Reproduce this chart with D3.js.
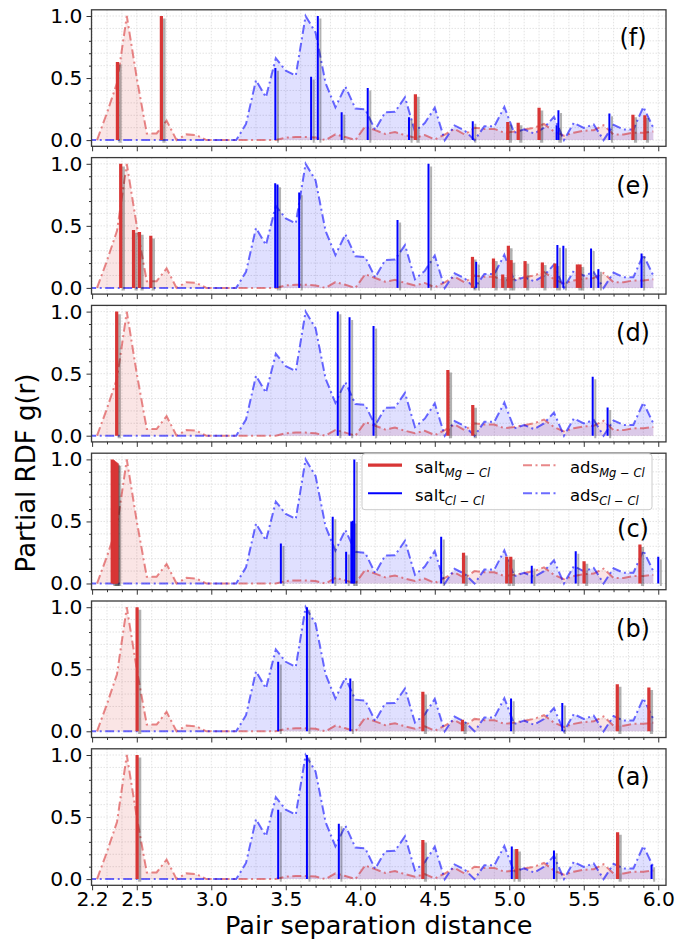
<!DOCTYPE html>
<html><head><meta charset="utf-8">
<script src="https://cdn.jsdelivr.net/npm/d3@7"></script>
<style>body{margin:0;background:#fff} svg{display:block}</style>
</head><body>
<svg id="chart" width="691" height="940"></svg>
<script>
// ---------- data ----------
const rGrid = [2.233,2.3,2.367,2.433,2.5,2.567,2.633,2.7,2.767,2.833,2.9,2.967,3.033,3.1,3.167,3.233,3.3,3.367,3.433,3.5,3.567,3.633,3.7,3.767,3.833,3.9,3.967,4.033,4.1,4.167,4.233,4.3,4.367,4.433,4.5,4.567,4.633,4.7,4.767,4.833,4.9,4.967,5.033,5.1,5.167,5.233,5.3,5.367,5.433,5.5,5.567,5.633,5.7,5.767,5.833,5.9,5.967];
const adsMgCl = [0,0.22,0.46,1.0,0.5,0.054,0.054,0.157,0,0.046,0.04,0,0,0,0,0,0,0,0,0.02,0.025,0.025,0.02,0,0.046,0.025,0,0.11,0.08,0.05,0.065,0.04,0.02,0.04,0.005,0.045,0.09,0.045,0.1,0.09,0.09,0.06,0.07,0.085,0.1,0.13,0.07,0.035,0.06,0.075,0.08,0.12,0.045,0.045,0.06,0.06,0.07];
const rGridCl = [2.167].concat(rGrid);
const adsClCl = [0,0,0,0,0,0,0,0,0,0,0,0,0,0,0,0,0.13,0.483,0.346,0.66,0.56,0.52,1.0,0.867,0.46,0.265,0.432,0.255,0.248,0.083,0.225,0.228,0.345,0.07,0.137,0.261,0,0.118,0.078,0,0.112,0.112,0.267,0.059,0.086,0.053,0.099,0.187,0,0.139,0.099,0.126,0,0.123,0.086,0.086,0.267,0.099];

const panelLabels = ["(f)","(e)","(d)","(c)","(b)","(a)"];
const saltMg_f = [[2.37,0.63],[2.665,1.0],[4.37,0.37],[4.99,0.145],[5.06,0.14],[5.2,0.26],[5.83,0.205],[5.91,0.2]];
const saltCl_f = [[3.43,0.58],[3.67,0.51],[3.715,1.0],[3.875,0.225],[4.05,0.42],[4.327,0.185],[4.755,0.152],[5.318,0.12],[5.33,0.24],[5.672,0.214]];
const saltMg_e = [[2.392,1.0],[2.478,0.466],[2.518,0.45],[2.594,0.42],[4.753,0.25],[4.894,0.237],[4.956,0.108],[4.994,0.34],[5.012,0.224],[5.106,0.216],[5.222,0.205],[5.307,0.197],[5.457,0.189],[5.475,0.189]];
const saltCl_e = [[3.429,0.844],[3.444,0.833],[3.59,0.768],[4.25,0.547],[4.458,1.0],[4.778,0.21],[5.323,0.345],[5.363,0.34],[5.549,0.318],[5.598,0.151],[5.888,0.278]];
const saltMg_d = [[2.365,1.0],[4.588,0.53],[4.755,0.247]];
const saltCl_d = [[3.849,1.0],[3.928,0.954],[4.089,0.884],[5.56,0.476],[5.66,0.228]];
const saltMg_c = [[2.335,1.0],[2.343,0.993],[2.351,0.985],[2.359,0.978],[2.367,0.97],[4.693,0.247],[4.983,0.215],[5.01,0.215],[5.502,0.18],[5.877,0.315]];
const saltCl_c = [[3.467,0.323],[3.815,0.538],[3.905,0.255],[3.94,0.5],[3.95,0.505],[3.96,1.0],[4.543,0.376],[5.151,0.142],[5.446,0.26],[6.0,0.215]];
const saltMg_b = [[2.502,1.0],[4.42,0.318],[4.686,0.094],[5.725,0.38],[5.937,0.353]];
const saltCl_b = [[3.449,0.56],[3.642,1.0],[3.933,0.426],[5.012,0.264],[5.356,0.229]];
const saltMg_a = [[2.502,1.0],[4.42,0.316],[5.05,0.243],[5.727,0.378]];
const saltCl_a = [[3.449,0.559],[3.642,1.0],[3.856,0.446],[5.017,0.262],[5.30,0.23],[5.955,0.116]];
const saltMgPanels = [saltMg_f,saltMg_e,saltMg_d,saltMg_c,saltMg_b,saltMg_a];
const saltClPanels = [saltCl_f,saltCl_e,saltCl_d,saltCl_c,saltCl_b,saltCl_a];

const xTickValues = [2.2,2.5,3.0,3.5,4.0,4.5,5.0,5.5,6.0];
const xTickLabels = ["2.2","2.5","3.0","3.5","4.0","4.5","5.0","5.5","6.0"];
const yTickValues = [0.0,0.5,1.0];
const yTickLabels = ["0.0","0.5","1.0"];

// ---------- styles ----------
const FONT = "DejaVu Sans";
const cMgBar = "#d83535", cClBar = "#0000ff";
const cMgLine = "rgba(214,39,40,0.55)", cClLine = "rgba(0,0,255,0.58)";
const cMgFill = "rgba(214,39,40,0.12)", cClFill = "rgba(0,0,255,0.12)";
const DASH = "9,3.5,2,3.5";

const svg = d3.select("#chart");
const L = 91.5, R = 666, H = 136.5, TOP0 = 9.8, STEP = 147.8;
const x = d3.scaleLinear().domain([2.196, 6.052]).range([L, R]);

const xMinor = d3.range(2.2, 6.05, 0.1).map(v => +v.toFixed(2)).filter(v => !xTickValues.some(t => Math.abs(t - v) < 1e-6));
const yMinor = d3.range(0, 1.01, 0.1).map(v => +v.toFixed(2)).filter(v => !yTickValues.some(t => Math.abs(t - v) < 1e-6));
const xGrid = d3.range(2.2, 6.05, 0.1).map(v => +v.toFixed(2));
const yGrid = d3.range(0, 1.01, 0.1).map(v => +v.toFixed(2));

panelLabels.forEach((lab, i) => {
  const top = TOP0 + i * STEP;
  const y = d3.scaleLinear().domain([-0.05, 1.05]).range([top + H, top]);
  const g = svg.append("g");
  const clipId = "clip" + i;
  svg.append("clipPath").attr("id", clipId).append("rect").attr("x", L).attr("y", top).attr("width", R - L).attr("height", H);

  g.append("rect").attr("x", L).attr("y", top).attr("width", R - L).attr("height", H).attr("fill", "#fff");

  // grid
  const grid = g.append("g").attr("clip-path", `url(#${clipId})`);
  grid.selectAll(".gx").data(xGrid).join("line")
    .attr("x1", d => x(d)).attr("x2", d => x(d)).attr("y1", top).attr("y2", top + H)
    .attr("stroke", "#dcdcdc").attr("stroke-width", 0.8).attr("stroke-dasharray", "1.5,1.5");
  grid.selectAll(".gy").data(yGrid).join("line")
    .attr("y1", d => y(d)).attr("y2", d => y(d)).attr("x1", L).attr("x2", R)
    .attr("stroke", "#dcdcdc").attr("stroke-width", 0.8).attr("stroke-dasharray", "1.5,1.5");

  const plot = g.append("g").attr("clip-path", `url(#${clipId})`);
  const mgPts = rGrid.map((r, k) => [r, adsMgCl[k]]);
  const clPts = rGridCl.map((r, k) => [r, adsClCl[k]]);
  const area = d3.area().x(d => x(d[0])).y0(y(0)).y1(d => y(d[1]));
  const line = d3.line().x(d => x(d[0])).y(d => y(d[1]));
  plot.append("path").attr("d", area(mgPts)).attr("fill", cMgFill);
  plot.append("path").attr("d", area(clPts)).attr("fill", cClFill);
  plot.append("path").attr("d", line(mgPts)).attr("fill", "none").attr("stroke", cMgLine).attr("stroke-width", 2).attr("stroke-dasharray", DASH);
  plot.append("path").attr("d", line(clPts)).attr("fill", "none").attr("stroke", cClLine).attr("stroke-width", 2).attr("stroke-dasharray", DASH);

  // salt bars with shadows
  const bars = [[saltMgPanels[i], cMgBar, 3.2], [saltClPanels[i], cClBar, 2.0]];
  bars.forEach(([data, col, w]) => {
    plot.selectAll(null).data(data).join("line")
      .attr("x1", d => x(d[0]) + 2.6).attr("x2", d => x(d[0]) + 2.6)
      .attr("y1", y(0) + 2.6).attr("y2", d => y(d[1]) + 2.6)
      .attr("stroke", "rgba(0,0,0,0.3)").attr("stroke-width", w);
  });
  bars.forEach(([data, col, w]) => {
    plot.selectAll(null).data(data).join("line")
      .attr("x1", d => x(d[0])).attr("x2", d => x(d[0]))
      .attr("y1", y(0)).attr("y2", d => y(d[1]))
      .attr("stroke", col).attr("stroke-width", w);
  });

  // spines
  g.append("rect").attr("x", L).attr("y", top).attr("width", R - L).attr("height", H)
    .attr("fill", "none").attr("stroke", "#3a3a3a").attr("stroke-width", 1.3);

  // axes
  const isBottom = i === panelLabels.length - 1;
  const xAx = g.append("g").attr("transform", `translate(0,${top + H})`)
    .call(d3.axisBottom(x).tickValues(xTickValues).tickSize(5).tickPadding(1)
      .tickFormat((d, k) => isBottom ? xTickLabels[k] : ""));
  const xAxMin = g.append("g").attr("transform", `translate(0,${top + H})`)
    .call(d3.axisBottom(x).tickValues(xMinor).tickSize(2.5).tickFormat(""));
  const yAx = g.append("g").attr("transform", `translate(${L},0)`)
    .call(d3.axisLeft(y).tickValues(yTickValues).tickSize(5).tickPadding(4).tickFormat((d, k) => yTickLabels[k]));
  const yAxMin = g.append("g").attr("transform", `translate(${L},0)`)
    .call(d3.axisLeft(y).tickValues(yMinor).tickSize(2.5).tickFormat(""));
  [xAx, xAxMin, yAx, yAxMin].forEach(a => {
    a.select(".domain").remove();
    a.selectAll("line").attr("stroke", "#333").attr("stroke-width", 1);
    a.selectAll("text").attr("font-family", FONT).attr("font-size", 20.3).attr("fill", "#000");
  });

  const labY = lab === "(c)" ? top + 84 : top + 36;
  g.append("text").attr("x", 633).attr("y", labY).attr("text-anchor", "middle")
    .attr("font-family", FONT).attr("font-size", 24).text(lab);

  // legend in panel (c)
  if (lab === "(c)") {
    const lg = g.append("g");
    lg.append("rect").attr("x", 362).attr("y", top + 0.5).attr("width", 290).attr("height", 56).attr("rx", 3)
      .attr("fill", "rgba(255,255,255,0.85)").attr("stroke", "#cccccc").attr("stroke-width", 1);
    const items = [
      {name: "salt", sub: "Mg", sub2: "Cl", col: cMgBar, w: 3.2, dash: null, hx: 368, ty: 12},
      {name: "salt", sub: "Cl", sub2: "Cl", col: cClBar, w: 2, dash: null, hx: 368, ty: 40},
      {name: "ads", sub: "Mg", sub2: "Cl", col: cMgLine, w: 2, dash: DASH, hx: 523, ty: 12},
      {name: "ads", sub: "Cl", sub2: "Cl", col: cClLine, w: 2, dash: DASH, hx: 523, ty: 40}
    ];
    items.forEach(it => {
      const yy = top + it.ty;
      lg.append("line").attr("x1", it.hx).attr("x2", it.hx + 34).attr("y1", yy).attr("y2", yy)
        .attr("stroke", it.col).attr("stroke-width", it.w).attr("stroke-dasharray", it.dash);
      const t = lg.append("text").attr("x", it.hx + 47).attr("y", yy + 8)
        .attr("font-family", FONT).attr("font-size", 16.5);
      t.append("tspan").text(it.name);
      t.append("tspan").attr("dy", 4).attr("font-size", 11.5).attr("font-style", "italic").text(it.sub);
      t.append("tspan").attr("font-size", 11.5).text(" \u2212 ");
      t.append("tspan").attr("font-size", 11.5).attr("font-style", "italic").text(it.sub2);
    });
  }
});

// axis titles
svg.append("text").attr("x", (L + R) / 2).attr("y", 933.8).attr("text-anchor", "middle")
  .attr("font-family", FONT).attr("font-size", 25.5).text("Pair separation distance");
svg.append("text").attr("transform", "translate(35,473) rotate(-90)").attr("text-anchor", "middle")
  .attr("font-family", FONT).attr("font-size", 26).text("Partial RDF g(r)");
</script>
</body></html>
